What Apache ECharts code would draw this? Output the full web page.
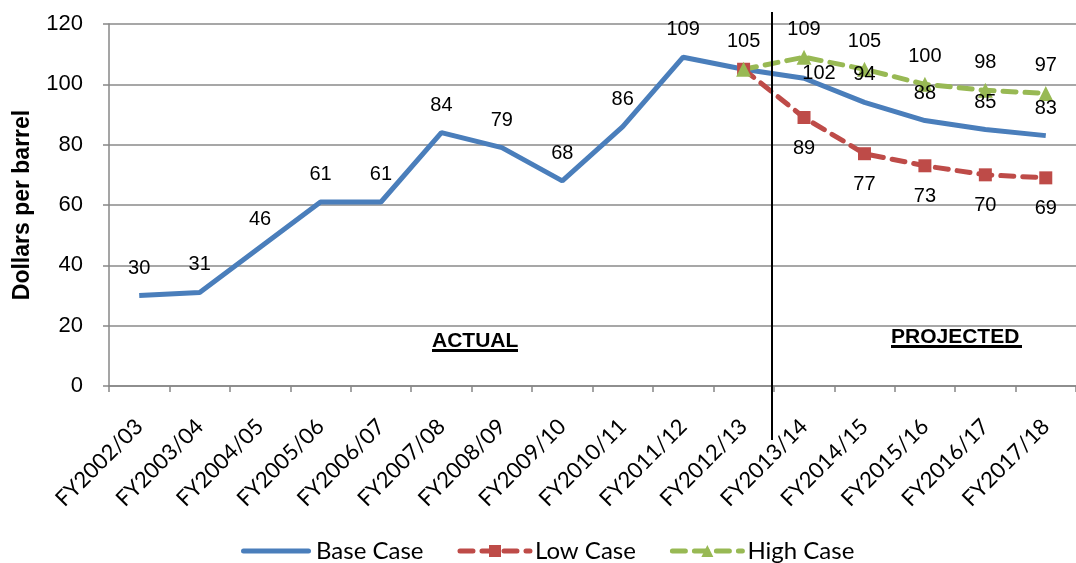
<html>
<head>
<meta charset="UTF-8" />
<title></title>
<script src="https://cdn.jsdelivr.net/npm/echarts@6/dist/echarts.min.js"></script>
<style type="text/css">
html, body { margin:0; padding:0; background:#fff; }
#main { width:1076px; height:563px; }
</style>
</head>
<body>
<div id="main"></div>
<script type="text/javascript">
// categories and values
var years = ['FY2002/03','FY2003/04','FY2004/05','FY2005/06','FY2006/07','FY2007/08','FY2008/09','FY2009/10',
             'FY2010/11','FY2011/12','FY2012/13','FY2013/14','FY2014/15','FY2015/16','FY2016/17','FY2017/18'];
var baseCase = [30, 31, 46, 61, 61, 84, 79, 68, 86, 109, 105, 102, 94, 88, 85, 83];
var lowCase  = ['-','-','-','-','-','-','-','-','-','-', 105, 89, 77, 73, 70, 69];
var highCase = ['-','-','-','-','-','-','-','-','-','-', 105, 109, 105, 100, 98, 97];
var yTicks = [0, 120, 20];

var arial = '"Liberation Sans", Arial, sans-serif';
var calibri = 'Lato, "Open Sans", sans-serif';

var myChart = echarts.init(document.getElementById('main'));

// base labels; the FY2013/14 one sits right next to the point
var baseLabels = baseCase.map(function (v, i) {
    if (i === 11) return { value: v, label: { offset: [15, 23] } };
    return v;
});

function noFirst(p) { return p.dataIndex === 10 ? '' : p.value; }

myChart.setOption({
    animation: false,
    grid: { left: 109, top: 24, width: 976, height: 362 },
    legend: {
        left: 236, top: 534,
        itemWidth: 70, itemHeight: 15, itemGap: 34,
        lineStyle: { width: 5 },
        textStyle: { fontFamily: calibri, fontSize: 24, color: '#000' },
        data: [
            { name: 'Base Case', icon: 'path://M2.5,0 H67.5 A2.5,2.5 0 0 1 67.5,5 H2.5 A2.5,2.5 0 0 1 2.5,0 Z' },
            'Low Case',
            'High Case'
        ]
    },
    xAxis: {
        type: 'category',
        data: years,
        boundaryGap: true,
        axisLine: { lineStyle: { color: '#878787', width: 1.5 } },
        axisTick: { show: true, length: 6, lineStyle: { color: '#878787', width: 1.5 } },
        axisLabel: { rotate: 45, margin: 37, interval: 0, fontFamily: calibri, fontSize: 22, color: '#000' }
    },
    yAxis: {
        type: 'value',
        min: yTicks[0], max: yTicks[1], interval: yTicks[2],
        name: 'Dollars per barrel',
        nameLocation: 'middle',
        nameGap: 75,
        nameTextStyle: { fontFamily: arial, fontSize: 23, fontWeight: 'bold', color: '#000' },
        axisLine: { show: true, lineStyle: { color: '#878787', width: 1.5 } },
        axisTick: { show: true, length: 6, lineStyle: { color: '#878787', width: 1.5 } },
        axisLabel: { margin: 26, fontFamily: arial, fontSize: 22, color: '#000' },
        splitLine: { lineStyle: { color: '#8a8a8a', width: 1.5 } }
    },
    series: [{
        name: 'Base Case',
        type: 'line',
        data: baseCase,
        symbol: 'none',
        color: '#4a7ebb',
        lineStyle: { width: 5, color: '#4a7ebb' }
    }, {
        // carries the base case value labels, drawn over the lines
        name: 'baseLabels',
        type: 'scatter',
        data: baseLabels,
        symbolSize: 1,
        z: 5,
        itemStyle: { color: 'transparent', opacity: 1 },
        silent: true,
        label: { show: true, position: 'top', distance: 17, fontFamily: arial, fontSize: 20, color: '#000' }
    }, {
        name: 'Low Case',
        type: 'line',
        data: lowCase,
        symbol: 'rect',
        symbolSize: 13,
        color: '#be4b48',
        itemStyle: { color: '#be4b48' },
        lineStyle: { width: 5, type: [13, 9], cap: 'round', color: '#be4b48' },
        label: { show: true, position: 'bottom', distance: 14, formatter: noFirst, fontFamily: arial, fontSize: 20, color: '#000' }
    }, {
        name: 'High Case',
        type: 'line',
        data: highCase,
        symbol: 'triangle',
        symbolSize: 15,
        color: '#98b954',
        itemStyle: { color: '#98b954' },
        lineStyle: { width: 5, type: [13, 9], cap: 'round', color: '#98b954' },
        label: { show: true, position: 'top', distance: 10, formatter: noFirst, fontFamily: arial, fontSize: 20, color: '#000' }
    }],
    graphic: [
        // actual / projected divider
        { type: 'line', shape: { x1: 772, y1: 12, x2: 772, y2: 440 }, style: { stroke: '#000', lineWidth: 2 }, z: 10 },
        { type: 'text', left: 432, top: 331, style: { text: 'ACTUAL', fontFamily: arial, fontSize: 21, fontWeight: 'bold', fill: '#000' } },
        { type: 'rect', shape: { x: 432, y: 349, width: 86, height: 3 }, style: { fill: '#000' } },
        { type: 'text', left: 891, top: 327, style: { text: 'PROJECTED', fontFamily: arial, fontSize: 21, fontWeight: 'bold', fill: '#000' } },
        { type: 'rect', shape: { x: 891, y: 345, width: 131, height: 3 }, style: { fill: '#000' } }
    ]
});
</script>
</body>
</html>
